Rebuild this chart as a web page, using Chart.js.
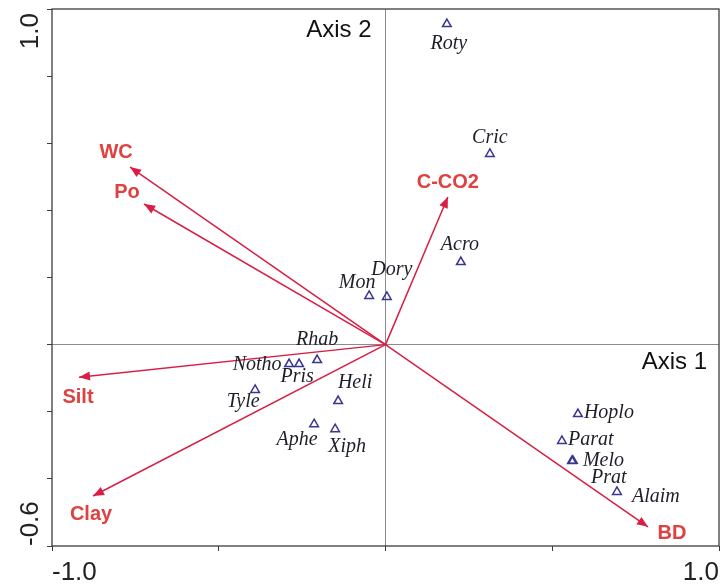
<!DOCTYPE html>
<html>
<head>
<meta charset="utf-8">
<script src="https://cdn.jsdelivr.net/npm/chart.js@4.4.0/dist/chart.umd.min.js"></script>
<style>
  html, body { margin: 0; padding: 0; background: #fff; }
  #wrap { width: 721px; height: 585px; }
</style>
</head>
<body>
<div id="wrap"><canvas id="biplot"></canvas></div>
<script>
// species scores (triangles)
const species = ['Roty', 'Cric', 'Acro', 'Dory', 'Mon', 'Rhab', 'Pris', 'Notho', 'Tyle',
                 'Heli', 'Aphe', 'Xiph', 'Hoplo', 'Parat', 'Melo', 'Prat', 'Alaim'];
const speciesAxis1 = [0.184, 0.313, 0.226, 0.004, -0.049, -0.205, -0.259, -0.289, -0.391,
                      -0.142, -0.214, -0.151, 0.577, 0.529, 0.559, 0.562, 0.694];
const speciesAxis2 = [0.955, 0.568, 0.246, 0.142, 0.145, -0.046, -0.058, -0.058, -0.135,
                      -0.168, -0.237, -0.252, -0.207, -0.287, -0.347, -0.346, -0.439];

// environmental variables (arrow tips)
const variables = ['WC', 'Po', 'C-CO2', 'Silt', 'Clay', 'BD'];
const variablesAxis1 = [-0.766, -0.724, 0.187, -0.919, -0.877, 0.787];
const variablesAxis2 = [0.529, 0.419, 0.440, -0.097, -0.451, -0.543];

// axis ranges and end labels
const xRange = [-1.0, 1.0];
const yRange = [-0.6, 1.0];
const xTickLabels = ['-1.0', '1.0'];
const yTickLabels = ['-0.6', '1.0'];
const axisNames = ['Axis 1', 'Axis 2'];

// label placement: pixel offset from the mark + text alignment
const speciesLabelPos = {
  Roty: [2, 20, 'center'], Cric: [0, -16, 'center'], Acro: [-1, -17, 'center'],
  Dory: [5, -27, 'center'], Mon: [-12, -13, 'center'], Rhab: [0, -20, 'center'],
  Pris: [-2, 13, 'center'], Notho: [-32, 1, 'center'], Tyle: [-12, 12, 'center'],
  Heli: [17, -18, 'center'], Aphe: [-17, 16, 'center'], Xiph: [12, 18, 'center'],
  Hoplo: [6, -1, 'left'], Parat: [6, -1, 'left'], Melo: [11, 0, 'left'],
  Prat: [18, 17, 'left'], Alaim: [15, 5, 'left']
};
const variableLabelPos = {
  WC: [-14, -15], Po: [-17, -12], 'C-CO2': [0, -14],
  Silt: [-1, 20], Clay: [-2, 18], BD: [24, 7]
};

const arrowColor = '#d81e45';
const varTextColor = '#e0403f';
const speciesColor = '#3a3590';
const sansFont = '"Liberation Sans", Arial, sans-serif';
const serifFont = '"Liberation Serif", "Times New Roman", serif';

const isZero = v => Math.abs(v) < 1e-9;

const arrowSets = variables.map((name, i) => ({
  label: name,
  data: [{ x: 0, y: 0 }, { x: variablesAxis1[i], y: variablesAxis2[i] }],
  showLine: true,
  borderColor: arrowColor,
  borderWidth: 1.5,
  pointRadius: 0,
  order: 2
}));

const biplotDecor = {
  id: 'biplotDecor',
  afterDatasetsDraw(chart) {
    const { ctx, chartArea: { left, right, top, bottom }, scales: { x, y } } = chart;
    ctx.save();

    // frame
    ctx.strokeStyle = '#3c3c3c';
    ctx.lineWidth = 1.3;
    ctx.strokeRect(left, top, right - left, bottom - top);

    const x0 = x.getPixelForValue(0);
    const y0 = y.getPixelForValue(0);

    // arrow heads + variable names
    variables.forEach((name, i) => {
      const x1 = x.getPixelForValue(variablesAxis1[i]);
      const y1 = y.getPixelForValue(variablesAxis2[i]);
      const a = Math.atan2(y1 - y0, x1 - x0);
      const len = 11, half = 4.5;
      ctx.fillStyle = arrowColor;
      ctx.beginPath();
      ctx.moveTo(x1, y1);
      ctx.lineTo(x1 - len * Math.cos(a) + half * Math.sin(a), y1 - len * Math.sin(a) - half * Math.cos(a));
      ctx.lineTo(x1 - len * Math.cos(a) - half * Math.sin(a), y1 - len * Math.sin(a) + half * Math.cos(a));
      ctx.closePath();
      ctx.fill();

      const [dx, dy] = variableLabelPos[name];
      ctx.font = 'bold 20px ' + sansFont;
      ctx.fillStyle = varTextColor;
      ctx.textAlign = 'center';
      ctx.textBaseline = 'middle';
      ctx.fillText(name, x1 + dx, y1 + dy);
    });

    // species names
    ctx.font = 'italic 20px ' + serifFont;
    ctx.fillStyle = '#1e1e28';
    ctx.textBaseline = 'middle';
    species.forEach((name, i) => {
      const px = x.getPixelForValue(speciesAxis1[i]);
      const py = y.getPixelForValue(speciesAxis2[i]);
      const [dx, dy, align] = speciesLabelPos[name];
      ctx.textAlign = align;
      ctx.fillText(name, px + dx, py + dy);
    });

    // axis names inside the plot
    ctx.font = '24px ' + sansFont;
    ctx.fillStyle = '#111';
    ctx.textAlign = 'right';
    ctx.fillText(axisNames[1], x0 - 14, top + 21);
    ctx.fillText(axisNames[0], right - 12, y0 + 18);

    // rotated y end labels
    ctx.font = '26px ' + sansFont;
    ctx.fillStyle = '#222';
    ctx.textBaseline = 'alphabetic';
    ctx.save();
    ctx.translate(left - 14, y.getPixelForValue(yRange[1]) + 4);
    ctx.rotate(-Math.PI / 2);
    ctx.textAlign = 'right';
    ctx.fillText(yTickLabels[1], 0, 0);
    ctx.restore();
    ctx.save();
    ctx.translate(left - 14, y.getPixelForValue(yRange[0]));
    ctx.rotate(-Math.PI / 2);
    ctx.textAlign = 'left';
    ctx.fillText(yTickLabels[0], 0, 0);
    ctx.restore();

    ctx.restore();
  }
};

new Chart(document.getElementById('biplot'), {
  type: 'scatter',
  data: {
    datasets: [
      {
        label: 'Species',
        data: species.map((s, i) => ({ x: speciesAxis1[i], y: speciesAxis2[i] })),
        pointStyle: 'triangle',
        pointRadius: 5,
        borderColor: speciesColor,
        backgroundColor: 'rgba(255,255,255,0)',
        borderWidth: 1.5,
        order: 1
      },
      ...arrowSets
    ]
  },
  options: {
    responsive: true,
    maintainAspectRatio: false,
    animation: false,
    layout: { autoPadding: false, padding: { top: 9, right: 2, left: 0, bottom: 0 } },
    plugins: {
      legend: { display: false },
      tooltip: { enabled: false }
    },
    scales: {
      x: {
        type: 'linear',
        min: xRange[0],
        max: xRange[1],
        border: { display: false },
        grid: {
          color: c => isZero(c.tick.value) ? '#8c8c8c' : 'rgba(0,0,0,0)',
          tickColor: '#3c3c3c',
          tickLength: 5
        },
        ticks: {
          stepSize: 0.5,
          align: 'inner',
          padding: 6,
          color: '#222',
          font: { family: sansFont, size: 26 },
          maxRotation: 0,
          autoSkip: false,
          callback: v => v === xRange[0] ? xTickLabels[0] : (v === xRange[1] ? xTickLabels[1] : '')
        },
        afterFit: s => { s.height = 39; s.paddingLeft = 0; s.paddingRight = 0; }
      },
      y: {
        type: 'linear',
        min: yRange[0],
        max: yRange[1],
        border: { display: false },
        grid: {
          color: c => isZero(c.tick.value) ? '#8c8c8c' : 'rgba(0,0,0,0)',
          tickColor: '#3c3c3c',
          tickLength: 5
        },
        ticks: { stepSize: 0.2, display: false },
        afterFit: s => { s.width = 52; s.paddingTop = 0; s.paddingBottom = 0; }
      }
    }
  },
  plugins: [biplotDecor]
});
</script>
</body>
</html>
